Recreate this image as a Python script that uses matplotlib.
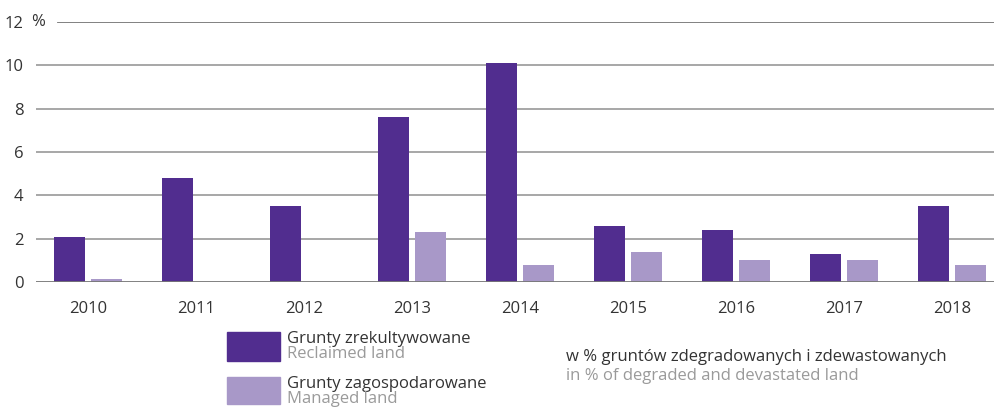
#!/usr/bin/env python3
import matplotlib
matplotlib.use('Agg')
import matplotlib.pyplot as plt
import matplotlib.transforms as mtransforms
from matplotlib.patches import Rectangle
import numpy as np

# data
years = ['2010', '2011', '2012', '2013', '2014', '2015', '2016', '2017', '2018']
reclaimed = [2.1, 4.8, 3.5, 7.6, 10.1, 2.6, 2.4, 1.3, 3.5]
managed = [0.15, 0, 0, 2.3, 0.8, 1.4, 1.0, 1.0, 0.8]
yticks = [0, 2, 4, 6, 8, 10, 12]

DARK = '#512d8f'
LIGHT = '#a898c8'
TXT = '#333333'
GREY_TXT = '#9a9a9a'

plt.rcParams['font.family'] = ['Open Sans', 'DejaVu Sans']
NARROW = ['Liberation Sans Narrow', 'Open Sans', 'DejaVu Sans']

W, H = 995, 408
fig = plt.figure(figsize=(W / 100, H / 100), dpi=100)
ax = fig.add_axes([36 / W, 126 / H, (W - 36) / W, 260 / H])

x = np.arange(len(years))
bw = 0.287
off = 0.171
ax.bar(x - off, reclaimed, bw, color=DARK, zorder=3)
ax.bar(x + off, managed, bw, color=LIGHT, zorder=3)

ax.set_xlim(-0.481, 8.398)
ax.set_ylim(0, 12)

# gridlines (top one starts after the "%" sign)
for v in yticks:
    start = 0.023 if v == 12 else 0
    col = '#777777' if v in (0, 12) else '#a0a0a0'
    ax.axhline(v, xmin=start, xmax=1, color=col, lw=1.3, zorder=1 if v else 4)

for sp in ax.spines.values():
    sp.set_visible(False)

ax.set_xticks(x)
ax.set_xticklabels(years)
ax.set_yticks(yticks)
ax.set_yticklabels([str(v) for v in yticks])
ax.tick_params(axis='both', length=0, labelsize=12, labelcolor=TXT)
ax.tick_params(axis='x', pad=14)
ax.tick_params(axis='y', pad=9)

trans = mtransforms.blended_transform_factory(ax.transAxes, ax.transData)
ax.text(-0.005, 12, '%', transform=trans, ha='left', va='center',
        fontsize=12, color=TXT)

# legend
def px(xp, yp):
    return xp / W, 1 - yp / H

for (top, bot), col, l1, l2 in [((332, 361), DARK, 'Grunty zrekultywowane', 'Reclaimed land'),
                                ((377, 404), LIGHT, 'Grunty zagospodarowane', 'Managed land')]:
    x0, y0 = px(227, bot)
    fig.patches.append(Rectangle((x0, y0), 53 / W, (bot - top) / H,
                                 transform=fig.transFigure, color=col))
    fig.text(*px(287, top + 7), l1, family=NARROW, fontsize=12,
             color=TXT, va='center')
    fig.text(*px(287, top + 22), l2, family=NARROW, fontsize=12,
             color=GREY_TXT, va='center')

fig.text(*px(566, 357), 'w % gruntów zdegradowanych i zdewastowanych',
         family=NARROW, fontsize=12, color=TXT, va='center')
fig.text(*px(566, 376), 'in % of degraded and devastated land',
         family=NARROW, fontsize=12, color=GREY_TXT, va='center')

fig.savefig('out.png', dpi=100)
